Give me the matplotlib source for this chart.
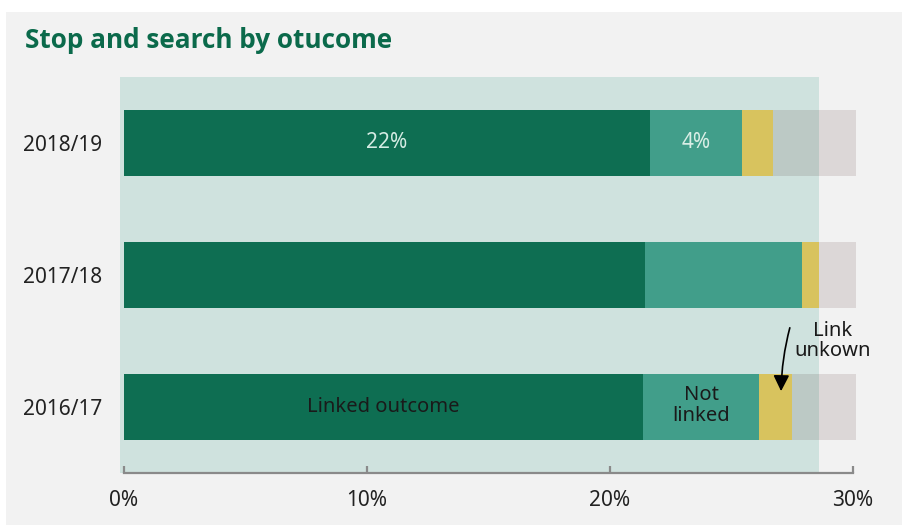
import matplotlib.pyplot as plt
from matplotlib.patches import Rectangle

# Stop and search outcomes, % of searches
years = ["2016/17", "2017/18", "2018/19"]
linked = [21.36, 21.44, 21.65]
not_linked = [4.77, 6.46, 3.77]
unknown = [1.36, 0.69, 1.29]
rest = [2.62, 1.52, 3.40]
ticks = [0, 10, 20, 30]

dark = "#0e6e52"
teal = "#419e8a"
yellow = "#d8c35e"
shade = "#cfe2de"
panel = "#f2f2f2"

plt.rcParams["font.family"] = ["Noto Sans", "DejaVu Sans"]

fig = plt.figure(figsize=(9.02, 5.25), dpi=100, facecolor="white")
fig.patches.append(Rectangle((6 / 902, 0), 1, 1 - 12 / 525, transform=fig.transFigure,
                             facecolor=panel, edgecolor="none", zorder=-10))

ax = fig.add_axes([124 / 902, 52 / 525, 729 / 902, 396 / 525])
ax.set_facecolor("none")

# light panel behind the bars
ax.add_patch(Rectangle((-0.16, -0.5), 28.76, 3.0, facecolor=shade, edgecolor="none",
                       zorder=0, clip_on=False))

y = range(len(years))
h = 0.5
left2 = [a + b for a, b in zip(linked, not_linked)]
left3 = [a + b for a, b in zip(left2, unknown)]
ax.barh(y, linked, height=h, color=dark, zorder=2, clip_on=False)
ax.barh(y, not_linked, left=linked, height=h, color=teal, zorder=2, clip_on=False)
ax.barh(y, unknown, left=left2, height=h, color=yellow, zorder=2, clip_on=False)
ax.barh(y, rest, left=left3, height=h, color="#2a0000", alpha=0.11, zorder=2, clip_on=False)

# value labels on latest year
ax.text(linked[2] / 2, 2, f"{linked[2]:.0f}%", ha="center", va="center",
        color="#d4ebe3", fontsize=15, zorder=3)
ax.text(linked[2] + not_linked[2] / 2, 2, f"{not_linked[2]:.0f}%", ha="center", va="center",
        color="#d9eee6", fontsize=15, zorder=3)

# category labels on first year
ax.text(linked[0] / 2, 0, "Linked outcome", ha="center", va="center",
        color="#1a1a1a", fontsize=14.5, zorder=3)
ax.text(linked[0] + not_linked[0] / 2, 0.01, "Not\nlinked", ha="center", va="center",
        color="#1a1a1a", fontsize=14.5, linespacing=1.05, zorder=3)
ax.text(29.16, 0.5, "Link\nunkown", ha="center", va="center",
        color="#1a1a1a", fontsize=14.5, linespacing=1.05, zorder=3)
ax.annotate("", xy=(27.04, 0.12), xytext=(27.4, 0.6), zorder=4,
            arrowprops=dict(arrowstyle="-|>", color="black", lw=1.2, mutation_scale=24,
                            shrinkA=0, shrinkB=0, connectionstyle="arc3,rad=0.06"))

ax.set_xlim(0, 30)
ax.set_ylim(-0.5, 2.5)
ax.set_yticks(list(y))
ax.set_yticklabels(years)
ax.set_xticks(ticks)
ax.set_xticklabels([f"{t}%" for t in ticks])
for s in ["top", "right", "left"]:
    ax.spines[s].set_visible(False)
ax.spines["bottom"].set_color("#8a8a8a")
ax.spines["bottom"].set_linewidth(1.6)
ax.spines["bottom"].set_zorder(5)
ax.tick_params(axis="x", direction="in", length=5, width=1.6, color="#8a8a8a",
               labelsize=15, labelcolor="#222222", pad=12)
ax.tick_params(axis="y", length=0, labelsize=15, labelcolor="#222222", pad=15.5)

fig.text(25 / 902, 1 - 48 / 525, "Stop and search by otucome", color="#0b6a4b",
         fontsize=18.8, fontweight="bold", family=["Open Sans", "DejaVu Sans"],
         va="baseline", ha="left")

fig.savefig("out.png", dpi=100, facecolor=fig.get_facecolor())
